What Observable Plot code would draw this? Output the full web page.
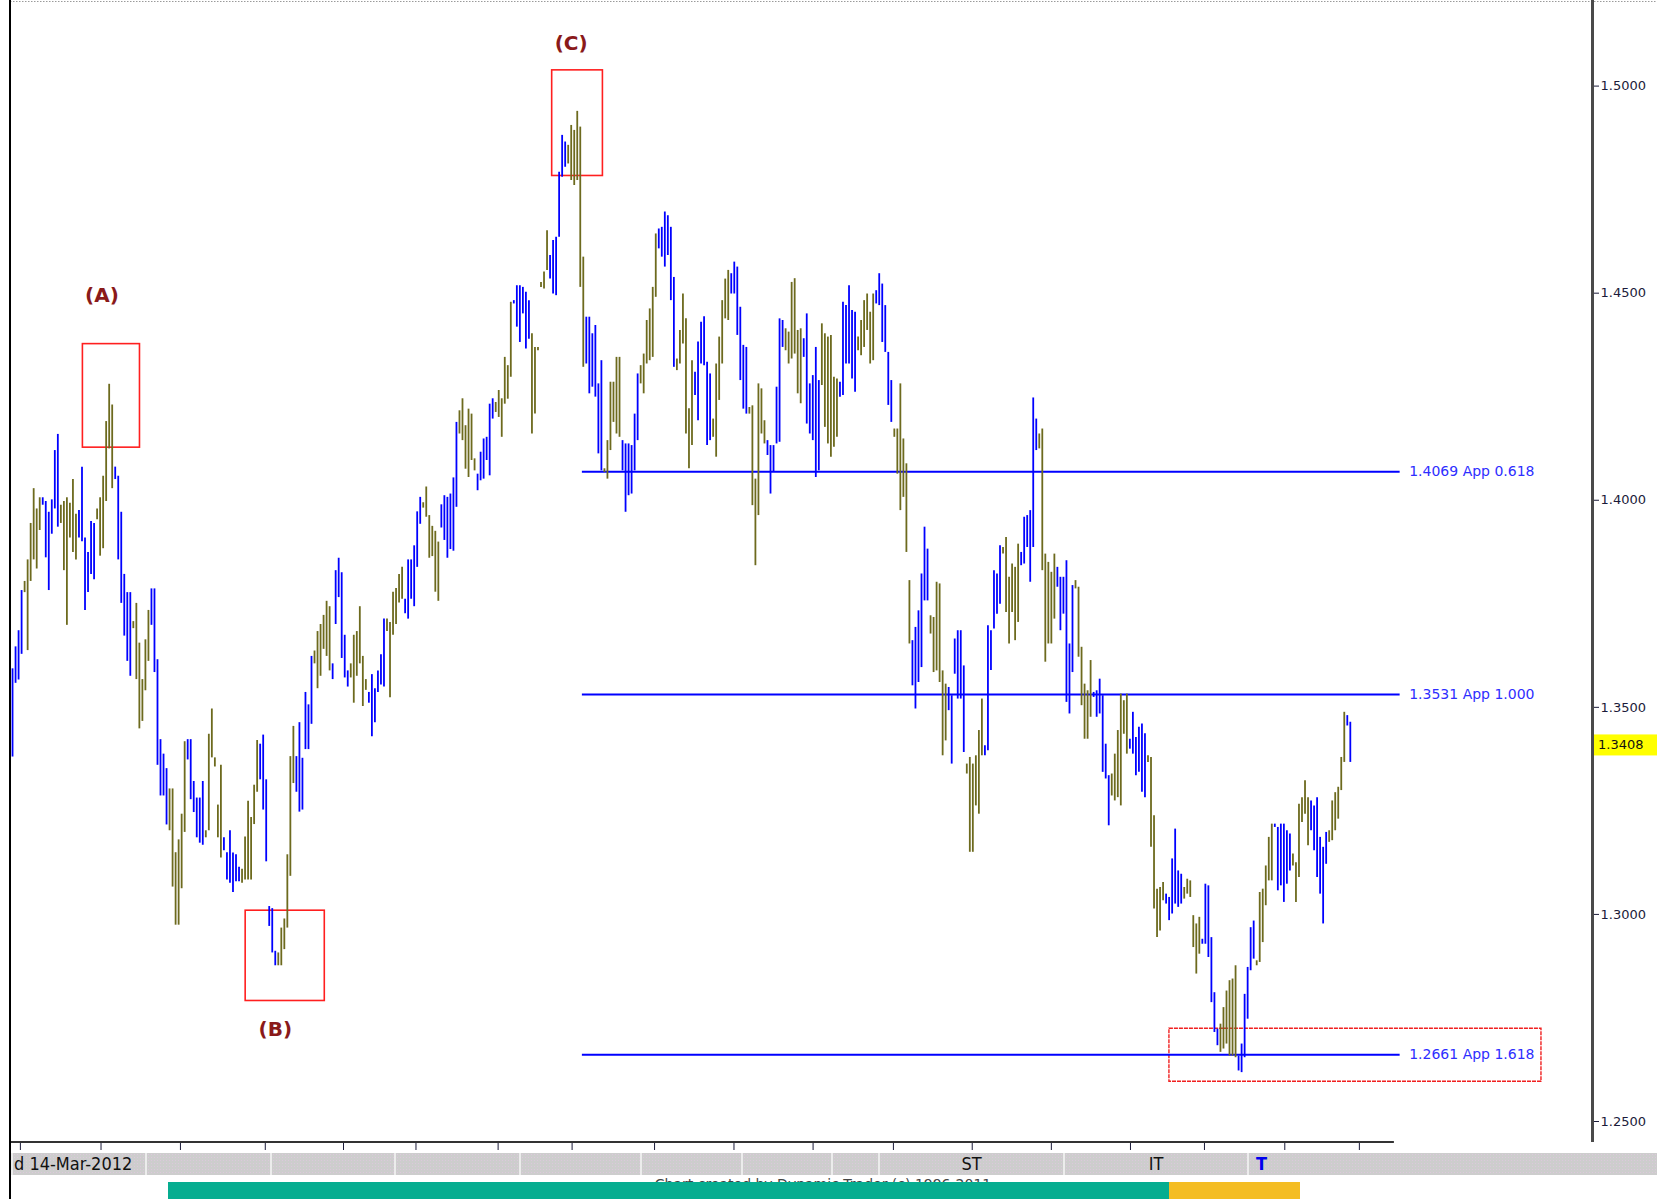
<!DOCTYPE html>
<html>
<head>
<meta charset="utf-8">
<script src="https://cdn.jsdelivr.net/npm/d3@7"></script>
<script src="https://cdn.jsdelivr.net/npm/@observablehq/plot@0.6"></script>
<style>
  html, body { margin: 0; padding: 0; background: #ffffff; }
  body { width: 1657px; height: 1199px; position: relative; overflow: hidden; font-family: "DejaVu Sans", sans-serif; }
  #chart { position: absolute; left: 0; top: 0; }
  .leftline { position: absolute; left: 9px; top: 0; width: 2px; height: 1199px; background: #000; z-index: 5; }
  .band { position: absolute; top: 1153px; height: 22px; background-color: #cdcdcd;
          background-image: radial-gradient(#dcc9dc 0.7px, transparent 0.9px); background-size: 3px 3px;
          border-left: 2px solid #ececec; box-sizing: border-box;
          font-family: "DejaVu Sans Condensed", "DejaVu Sans", sans-serif; font-size: 18px; line-height: 22px; color: #111; white-space: nowrap; overflow: hidden; }
  .credit { position: absolute; top: 1176px; left: 0; width: 1646px; text-align: center; font-family: "DejaVu Sans", sans-serif; font-size: 14px; color: #444; }
  .strip { position: absolute; top: 1182px; height: 17px; }
</style>
</head>
<body>
<div id="chart"></div>
<div class="leftline"></div>
<script>
// ---- data ----
const firstBarIndex = 2;   // bar slots counted Sun..Fri per week, first bar = Tue 28-Sep-2010
const highs = [
1.3593,1.3646,1.3685,1.3782,
1.3804,1.3856,1.3944,1.4028,1.3979,1.4006,
1.4006,1.3997,1.3971,1.4001,1.4120,1.4159,
1.3988,1.3997,1.4006,1.3993,1.4050,1.3966,
1.3975,1.4080,1.3909,1.3874,1.3949,1.3944,
1.3979,1.4006,1.4058,1.4190,1.4280,1.4230,
1.4080,1.4058,1.3971,1.3821,1.3777,1.3777,
1.3707,1.3751,1.3655,1.3567,1.3663,1.3734,
1.3786,1.3786,1.3615,1.3422,1.3387,1.3352,
1.3303,1.3303,1.3149,1.3180,1.3242,1.3417,
1.3422,1.3422,1.3321,1.3281,1.3281,1.3321,
1.3202,1.3435,1.3496,1.3378,1.3264,1.3360,
1.3185,1.3149,1.3202,1.3148,1.3144,1.3114,
1.3109,1.3187,1.3273,1.3234,1.3312,1.3420,
1.3411,1.3433,1.3325,1.3019,1.3014,1.2911,
1.2907,1.2967,1.2989,1.3144,1.3381,1.3454,
1.3381,1.3463,1.3377,1.3536,1.3506,1.3623,
1.3636,1.3683,1.3700,1.3722,1.3756,1.3743,
1.3605,1.3830,1.3860,1.3825,1.3674,1.3588,
1.3605,1.3674,1.3683,1.3743,1.3623,1.3567,
1.3536,1.3579,1.3545,1.3588,1.3627,1.3713,
1.3713,1.3705,1.3778,1.3787,1.3821,1.3838,
1.3761,1.3856,1.3856,1.3890,1.3972,1.4007,
1.3994,1.4032,1.3963,1.3937,1.3925,1.3899,
1.3989,1.4011,1.4007,1.4015,1.4054,1.4188,
1.4216,1.4245,1.4180,1.4220,1.4208,1.4100,
1.4063,1.4116,1.4148,1.4152,1.4232,1.4245,
1.4236,1.4265,1.4245,1.4345,1.4325,1.4478,
1.4482,1.4518,1.4518,1.4514,1.4502,1.4482,
1.4402,1.4369,1.4369,1.4526,1.4551,1.4651,
1.4591,1.4627,1.4635,1.4792,1.4881,1.4865,
1.4857,1.4905,1.4893,1.4939,1.4901,1.4587,
1.4442,1.4442,1.4402,1.4422,1.4281,1.4337,
1.4076,1.4144,1.4285,1.4285,1.4345,1.4345,
1.4144,1.4136,1.4136,1.4132,1.4208,1.4305,
1.4325,1.4353,1.4434,1.4462,1.4514,1.4643,
1.4655,1.4659,1.4696,1.4687,1.4659,1.4538,
1.4341,1.4410,1.4498,1.4438,1.4221,1.4337,
1.4309,1.4382,1.4430,1.4443,1.4333,1.4305,
1.4196,1.4329,1.4394,1.4482,1.4534,1.4555,
1.4547,1.4575,1.4563,1.4466,1.4374,1.4369,
1.4224,1.4228,1.4051,1.4281,1.4269,1.4192,
1.4144,1.4132,1.4132,1.4273,1.4438,1.4434,
1.4414,1.4406,1.4526,1.4535,1.4410,1.4414,
1.4390,1.4450,1.4281,1.4301,1.4369,1.4289,
1.4426,1.4402,1.4394,1.4398,1.4297,1.4293,
1.4285,1.4478,1.4470,1.4518,1.4458,1.4454,
1.4394,1.4434,1.4482,1.4498,1.4454,1.4498,
1.4506,1.4547,1.4522,1.4470,1.4357,1.4289,
1.4172,1.4172,1.4281,1.4148,1.4088,1.3806,
1.3661,1.3693,1.3733,1.3822,1.3935,1.3882,
1.3721,1.3717,1.3802,1.3798,1.3588,1.3556,
1.3548,1.3528,1.3665,1.3685,1.3685,1.3600,
1.3363,1.3379,1.3363,1.3383,1.3444,1.3520,
1.3407,1.3697,1.3685,1.3830,1.3822,1.3890,
1.3886,1.3910,1.3814,1.3846,1.3838,1.3894,
1.3874,1.3959,1.3963,1.3975,1.4247,1.4196,
1.4160,1.4172,1.3870,1.3850,1.3826,1.3870,
1.3838,1.3814,1.3814,1.3854,1.3653,1.3794,
1.3806,1.3790,1.3645,1.3556,1.3540,1.3613,
1.3536,1.3540,1.3568,1.3528,1.3411,1.3335,
1.3339,1.3387,1.3444,1.3532,1.3516,1.3532,
1.3423,1.3488,1.3427,1.3452,1.3460,1.3436,
1.3383,1.3379,1.3238,1.3061,1.3065,1.3077,
1.3049,1.3041,1.3134,1.3206,1.3105,1.3097,
1.3065,1.3085,1.3081,1.2997,1.2977,1.2993,
1.2940,1.3073,1.3069,1.2944,1.2811,1.2723,
1.2735,1.2775,1.2815,1.2840,1.2844,1.2876,
1.2658,1.2687,1.2807,1.2872,1.2968,1.2984,
1.2888,1.3053,1.3061,1.3117,1.3186,1.3218,
1.3218,1.3210,1.3218,1.3218,1.3202,1.3194,
1.3146,1.3125,1.3266,1.3282,1.3323,1.3282,
1.3274,1.3262,1.3282,1.3186,1.3162,1.3198,
1.3202,1.3274,1.3294,1.3307,1.3379,1.3488,
1.3480,1.3464
];
const lows = [
1.3380,1.3558,1.3566,1.3628,
1.3777,1.3637,1.3804,1.3856,1.3834,1.3927,
1.3988,1.3861,1.3782,1.3918,1.3979,1.3935,
1.3944,1.3830,1.3698,1.3909,1.3874,1.3856,
1.3909,1.3900,1.3734,1.3777,1.3821,1.3808,
1.3953,1.3865,1.3883,1.3997,1.4124,1.4028,
1.4050,1.3856,1.3751,1.3672,1.3611,1.3575,
1.3690,1.3567,1.3448,1.3466,1.3540,1.3611,
1.3698,1.3584,1.3360,1.3286,1.3286,1.3216,
1.3202,1.3066,1.2974,1.2974,1.3062,1.3198,
1.3373,1.3277,1.3246,1.3185,1.3172,1.3167,
1.3185,1.3202,1.3378,1.3356,1.3185,1.3136,
1.3154,1.3083,1.3075,1.3053,1.3079,1.3079,
1.3075,1.3083,1.3083,1.3083,1.3217,1.3295,
1.3325,1.3252,1.3127,1.2971,1.2907,1.2876,
1.2876,1.2876,1.2915,1.2967,1.3092,1.3316,
1.3295,1.3247,1.3252,1.3398,1.3398,1.3459,
1.3605,1.3545,1.3575,1.3640,1.3623,1.3588,
1.3567,1.3700,1.3765,1.3618,1.3571,1.3549,
1.3571,1.3510,1.3575,1.3605,1.3502,1.3541,
1.3510,1.3429,1.3463,1.3536,1.3554,1.3549,
1.3683,1.3523,1.3674,1.3700,1.3752,1.3761,
1.3726,1.3713,1.3761,1.3743,1.3838,1.3942,
1.3981,1.3959,1.3860,1.3864,1.3778,1.3756,
1.3933,1.3903,1.3860,1.3881,1.3877,1.3983,
1.4160,1.4144,1.4075,1.4055,1.4096,1.4071,
1.4023,1.4047,1.4051,1.4096,1.4059,1.4196,
1.4212,1.4200,1.4152,1.4232,1.4244,1.4297,
1.4474,1.4418,1.4381,1.4450,1.4365,1.4389,
1.4160,1.4208,1.4361,1.4514,1.4510,1.4555,
1.4534,1.4498,1.4494,1.4635,1.4780,1.4804,
1.4812,1.4772,1.4760,1.4772,1.4514,1.4321,
1.4329,1.4257,1.4273,1.4249,1.4112,1.4071,
1.4067,1.4051,1.4120,1.4188,1.4160,1.4152,
1.4071,1.3971,1.4011,1.4015,1.4071,1.4144,
1.4281,1.4257,1.4329,1.4337,1.4345,1.4490,
1.4607,1.4587,1.4563,1.4591,1.4482,1.4321,
1.4313,1.4329,1.4377,1.4160,1.4076,1.4132,
1.4253,1.4192,1.4329,1.4325,1.4132,1.4144,
1.4152,1.4104,1.4241,1.4329,1.4438,1.4434,
1.4498,1.4498,1.4398,1.4289,1.4220,1.4208,
1.4208,1.3987,1.3842,1.3963,1.4160,1.4136,
1.4108,1.4015,1.4067,1.4136,1.4140,1.4369,
1.4361,1.4329,1.4341,1.4353,1.4257,1.4233,
1.4345,1.4184,1.4160,1.4144,1.4055,1.4071,
1.4277,1.4176,1.4136,1.4104,1.4128,1.4152,
1.4249,1.4253,1.4329,1.4329,1.4293,1.4261,
1.4361,1.4349,1.4369,1.4410,1.4329,1.4337,
1.4474,1.4470,1.4381,1.4357,1.4229,1.4188,
1.4152,1.4063,1.3975,1.4007,1.3874,1.3653,
1.3552,1.3496,1.3560,1.3596,1.3757,1.3757,
1.3677,1.3584,1.3588,1.3560,1.3383,1.3419,
1.3492,1.3363,1.3580,1.3520,1.3520,1.3391,
1.3339,1.3150,1.3150,1.3262,1.3242,1.3383,
1.3383,1.3395,1.3589,1.3689,1.3725,1.3749,
1.3870,1.3729,1.3653,1.3729,1.3661,1.3705,
1.3842,1.3846,1.3886,1.3802,1.3886,1.4120,
1.4124,1.3830,1.3609,1.3653,1.3653,1.3713,
1.3790,1.3685,1.3725,1.3512,1.3484,1.3584,
1.3786,1.3621,1.3504,1.3423,1.3423,1.3476,
1.3524,1.3476,1.3484,1.3343,1.3327,1.3214,
1.3286,1.3274,1.3282,1.3262,1.3435,1.3387,
1.3399,1.3387,1.3335,1.3343,1.3295,1.3282,
1.3367,1.3162,1.3013,1.2944,1.2960,1.3033,
1.3025,1.2985,1.3001,1.3025,1.3017,1.3025,
1.3037,1.3049,1.3041,1.2920,1.2856,1.2904,
1.2928,1.2928,1.2896,1.2787,1.2715,1.2683,
1.2667,1.2675,1.2687,1.2658,1.2658,1.2654,
1.2622,1.2618,1.2654,1.2747,1.2864,1.2892,
1.2876,1.2884,1.2932,1.3021,1.3081,1.3081,
1.3210,1.3057,1.3069,1.3029,1.3073,1.3105,
1.3117,1.3029,1.3089,1.3222,1.3242,1.3166,
1.3202,1.3154,1.3089,1.3049,1.2977,1.3121,
1.3174,1.3178,1.3202,1.3230,1.3299,1.3367,
1.3455,1.3367
];
// bar colour alternates week by week (B = blue, O = olive)
const weekColors = "BOBOBOBOBOBOBOBOBOBOBOBOBOBOBOBOBOBOBOBOBOBOBOBOBOBOBOBOBOBOBOBOBOBOBOBOBOB";
const lastClose = 1.3408;

const priceTicks = [1.25, 1.30, 1.35, 1.40, 1.45, 1.50];
const monthTicks = [4.6, 31.3, 57.6, 85.7, 111.6, 135.6, 162.8, 187.3, 214.6, 240.9, 267.1, 293.7, 319.8, 346, 372.2, 396.7, 423.3, 448];

const fibLevels = [1.4069, 1.3531, 1.2661];
const fibRatios = ["0.618", "1.000", "1.618"];
const fibStart = 190.7, fibEnd = 461.5, fibLabelX = 464.5;

const waveLabels = ["(A)", "(B)", "(C)"];
const waveX = [31.6, 89.0, 187.0];
const waveY = [1.4494, 1.2721, 1.5102];

const boxX1 = [25.3, 79.2, 180.7, 385.1];
const boxX2 = [44.2, 105.4, 197.5, 508.3];
const boxY1 = [1.4127, 1.2791, 1.4783, 1.2596];
const boxY2 = [1.4377, 1.3009, 1.5038, 1.2724];

const xDomain = [1.325, 525.2];
const xAxisEnd = 459.6;

const BLUE = "#0000ff", OLIVE = "#6d6a1e";

// ---- build ----
const bars = highs.map((h, k) => ({ i: firstBarIndex + k, hi: h, lo: lows[k] }));
const colorOf = i => weekColors[Math.floor(i / 6)] === "B" ? BLUE : OLIVE;

function decor(index, scales, values, dim) {
  const g = d3.create("svg:g");
  const W = dim.width;
  const bottom = dim.height - dim.marginBottom;
  g.append("line").attr("x1", 10).attr("x2", W).attr("y1", 1.5).attr("y2", 1.5)
    .attr("stroke", "#9a9a9a").attr("stroke-dasharray", "1.5,1.5");
  const xr = W - dim.marginRight;
  g.append("line").attr("x1", xr + 0.5).attr("x2", xr + 0.5).attr("y1", 0).attr("y2", bottom)
    .attr("stroke", "#4a4a4a").attr("stroke-width", 3);
  const xe = scales && scales.x ? scales.x(xAxisEnd) : 1394;
  g.append("line").attr("x1", 10).attr("x2", xe).attr("y1", bottom).attr("y2", bottom)
    .attr("stroke", "#333").attr("stroke-width", 2);
  return g.node();
}

function priceBox(index, scales, values, dim) {
  const g = d3.create("svg:g");
  const y = scales.y(lastClose);
  const x0 = dim.width - dim.marginRight;
  g.append("rect").attr("x", x0 + 2).attr("y", y - 10.5).attr("width", dim.marginRight - 2).attr("height", 21).attr("fill", "#ffff00");
  g.append("text").attr("x", x0 + 6).attr("y", y).attr("dy", "0.35em").attr("text-anchor", "start")
    .attr("font-family", "DejaVu Sans, sans-serif").attr("font-size", 13).attr("fill", "#111")
    .text(d3.format(".4f")(lastClose));
  return g.node();
}

const chart = Plot.plot({
  width: 1657,
  height: 1152,
  marginLeft: 10,
  marginRight: 65,
  marginTop: 2,
  marginBottom: 10,
  style: { background: "transparent", fontFamily: "DejaVu Sans, sans-serif", fontSize: "13px", color: "#1b1b3a", overflow: "visible" },
  x: { domain: xDomain, ticks: monthTicks, tickFormat: () => "", tickSize: 8, label: null, axis: "bottom" },
  y: { domain: [1.25, 1.5], range: [1121, 85.6], ticks: priceTicks, tickFormat: d3.format(".4f"), tickSize: 6, tickPadding: 2, label: null, axis: "right" },
  color: { type: "identity" },
  marks: [
    decor,
    Plot.rect([0, 1, 2], { x1: i => boxX1[i], x2: i => boxX2[i], y1: i => boxY1[i], y2: i => boxY2[i], fill: "none", stroke: "#ff1f1f", strokeWidth: 1.6 }),
    Plot.rect([3], { x1: i => boxX1[i], x2: i => boxX2[i], y1: i => boxY1[i], y2: i => boxY2[i], fill: "none", stroke: "#f02020", strokeWidth: 1.4, strokeDasharray: "4,1" }),
    Plot.ruleY(fibLevels, { y: d => d, x1: () => fibStart, x2: () => fibEnd, stroke: "#0000ff", strokeWidth: 2 }),
    Plot.ruleX(bars, { x: "i", y1: "lo", y2: "hi", stroke: d => colorOf(d.i), strokeWidth: 1.8 }),
    Plot.text(fibLevels, { x: () => fibLabelX, y: d => d, text: (d, i) => `${d3.format(".4f")(d)} App ${fibRatios[i]}`,
      textAnchor: "start", fill: "#2e2eff", fontSize: 14, fontFamily: "DejaVu Sans, sans-serif" }),
    Plot.text([0, 1, 2], { x: i => waveX[i], y: i => waveY[i], text: i => waveLabels[i],
      fill: "#8a1a1a", fontWeight: "bold", fontSize: 20, fontFamily: "DejaVu Sans, sans-serif" }),
    priceBox
  ]
});
document.getElementById("chart").appendChild(chart);

// ---- bottom status band ----
const bandEdges = [11, 145, 270, 394, 519, 640, 741, 831, 878, 1063, 1247, 1657];
const bandTexts = ["d 14-Mar-2012", "", "", "", "", "", "", "", "ST", "IT", "T"];
for (let k = 0; k < bandEdges.length - 1; k++) {
  const d = document.createElement("div");
  d.className = "band";
  d.style.left = bandEdges[k] + "px";
  d.style.width = (bandEdges[k + 1] - bandEdges[k]) + "px";
  const t = bandTexts[k];
  if (k === 0) { d.style.paddingLeft = "1px"; d.textContent = t; }
  else if (t === "T") { d.style.paddingLeft = "7px"; d.style.color = "#0000ee"; d.style.fontWeight = "bold"; d.textContent = t; }
  else if (t) { d.style.textAlign = "center"; d.textContent = t; }
  document.body.appendChild(d);
}
const credit = document.createElement("div");
credit.className = "credit";
credit.textContent = "Chart created by Dynamic Trader (c) 1996-2011";
document.body.appendChild(credit);
const strips = [[168, 1000.6, "#06ad90"], [1168.6, 131, "#f4bd23"]];
for (const [l, w, c] of strips) {
  const d = document.createElement("div");
  d.className = "strip";
  d.style.left = l + "px"; d.style.width = w + "px"; d.style.background = c;
  document.body.appendChild(d);
}
</script>
</body>
</html>
